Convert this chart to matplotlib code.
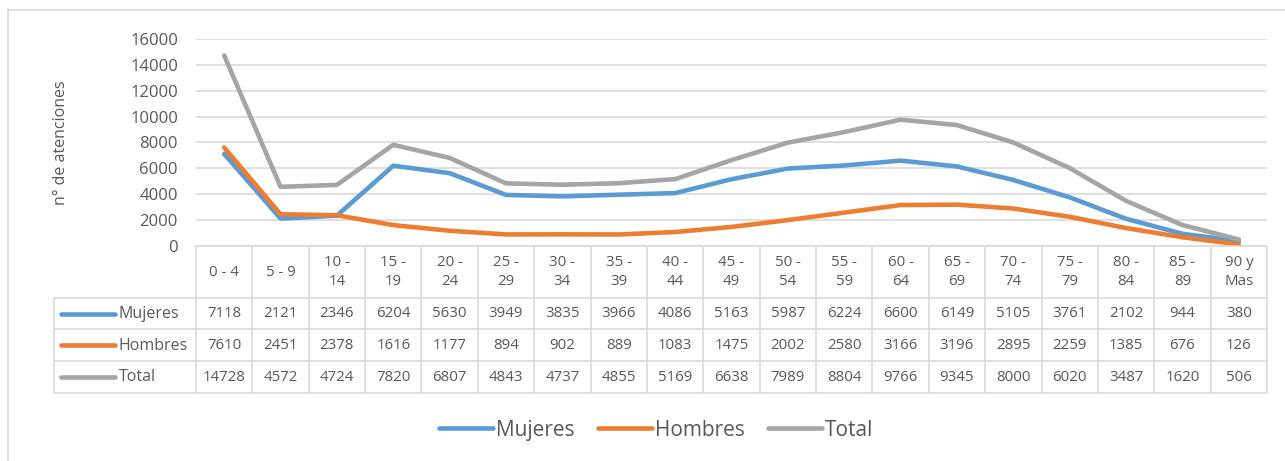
import matplotlib.pyplot as plt
from matplotlib.lines import Line2D

plt.rcParams['font.family'] = ['Open Sans', 'DejaVu Sans']

# grupos de edad
grupos = ["0 - 4", "5 - 9", "10 -\n14", "15 -\n19", "20 -\n24", "25 -\n29",
          "30 -\n34", "35 -\n39", "40 -\n44", "45 -\n49", "50 -\n54", "55 -\n59",
          "60 -\n64", "65 -\n69", "70 -\n74", "75 -\n79", "80 -\n84", "85 -\n89",
          "90 y\nMas"]
mujeres = [7118, 2121, 2346, 6204, 5630, 3949, 3835, 3966, 4086, 5163, 5987,
           6224, 6600, 6149, 5105, 3761, 2102, 944, 380]
hombres = [7610, 2451, 2378, 1616, 1177, 894, 902, 889, 1083, 1475, 2002,
           2580, 3166, 3196, 2895, 2259, 1385, 676, 126]
total = [14728, 4572, 4724, 7820, 6807, 4843, 4737, 4855, 5169, 6638, 7989,
         8804, 9766, 9345, 8000, 6020, 3487, 1620, 506]

series = [("Mujeres", mujeres, "#5B9BD5"),
          ("Hombres", hombres, "#ED7D31"),
          ("Total", total, "#A5A5A5")]

W, H = 1285, 461
txt = "#595959"
grid = "#D9D9D9"

fig = plt.figure(figsize=(W / 100, H / 100), dpi=100)


def px_box(x0, y0, x1, y1):
    return [x0 / W, 1 - y1 / H, (x1 - x0) / W, (y1 - y0) / H]


# borde exterior
fig.add_artist(Line2D([8 / W, 8 / W], [0, 1 - 10 / H], color=grid, lw=1.2))
fig.add_artist(Line2D([8 / W, 1], [1 - 10 / H, 1 - 10 / H], color=grid, lw=1.2))

n = len(grupos)
x = list(range(n))

ax = fig.add_axes(px_box(196, 39, 1267, 246))
for nombre, vals, color in series:
    ax.plot(x, vals, color=color, lw=3.3, solid_capstyle="round",
            solid_joinstyle="round", label=nombre)
ax.set_xlim(-0.5, n - 0.5)
ax.set_ylim(0, 16000)
ax.set_yticks(range(0, 16001, 2000))
ax.yaxis.grid(True, color=grid, lw=1.2)
ax.set_axisbelow(True)
ax.set_xticks([])
for s in ax.spines.values():
    s.set_visible(False)
ax.tick_params(axis="y", length=0, pad=13, labelsize=12, labelcolor=txt)
ax.set_ylabel("n° de atenciones", fontsize=11.5, color=txt, labelpad=44)

# tabla de datos
left = -0.5 - (196 - 54) / ((1267 - 196) / n)
tab = fig.add_axes(px_box(54, 246, 1267, 393))
tab.set_xlim(left, n - 0.5)
tab.set_ylim(393, 246)
tab.axis("off")
filas = [246, 298, 329.5, 361.5, 393]
tab.hlines(filas[0], -0.5, n - 0.5, color=grid, lw=1.2, clip_on=False)
tab.hlines(filas[1:], left, n - 0.5, color=grid, lw=1.2, clip_on=False)
tab.vlines([i - 0.5 for i in range(n + 1)], 246, 393, color=grid, lw=1.2,
           clip_on=False)
tab.vlines(left, 298, 393, color=grid, lw=1.2, clip_on=False)

for i, g in enumerate(grupos):
    tab.text(i, 272, g, ha="center", va="center", fontsize=10.8, color=txt,
             linespacing=1.3)

for r, (nombre, vals, color) in enumerate(series):
    yc = (filas[r + 1] + filas[r + 2]) / 2
    for i, v in enumerate(vals):
        tab.text(i, yc, str(v), ha="center", va="center", fontsize=10.8,
                 color=txt)
    tab.plot([left + 0.12, left + 1.08], [yc, yc], color=color, lw=3.3,
             solid_capstyle="round", clip_on=False)
    tab.text(left + 1.15, yc, nombre, ha="left", va="center", fontsize=11.5,
             color=txt)

# leyenda
leg = fig.legend(loc="center", bbox_to_anchor=(656 / W, 1 - 430 / H), ncol=3,
                 frameon=False, fontsize=15, handlelength=2.6,
                 handletextpad=0.15, columnspacing=1.1, labelcolor=txt)
for h in leg.get_lines():
    h.set_solid_capstyle("round")

fig.savefig("out.png", dpi=100)
